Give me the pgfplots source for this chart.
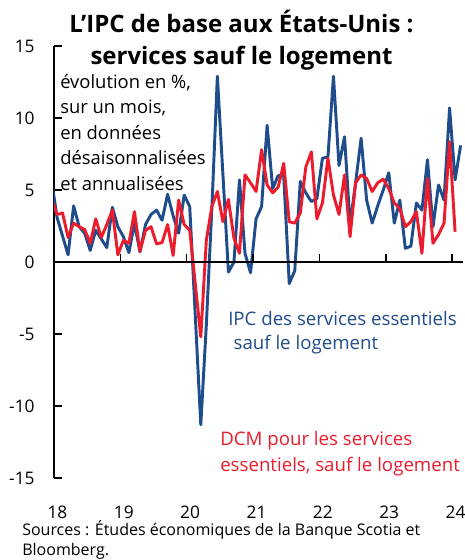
\documentclass[border=0pt]{standalone}
\usepackage{pgfplots}
\usepackage{pgfplotstable}
\pgfplotsset{compat=1.18}
\usepackage{fontspec}
\setmainfont{Open Sans}
\definecolor{cblue}{RGB}{31,76,138}
\definecolor{cred}{RGB}{236,28,45}
\pgfplotstableread{
k blue red
-1 5.7 4.4
0 3.1 3.3
1 1.8 3.4
2 0.5 1.7
3 3.9 2.7
4 2.45 2.45
5 2.0 2.25
6 0.8 1.3
7 2.2 3.0
8 1.6 1.7
9 1.0 2.6
10 3.8 3.6
11 2.45 0.5
12 1.76 1.5
13 0.65 1.3
14 2.7 3.5
15 0.7 0.75
16 2.6 2.2
17 3.3 2.45
18 3.6 1.25
19 2.9 1.35
20 4.7 2.6
21 3.2 0.45
22 2.0 4.3
23 4.65 2.6
24 3.85 2.2
25 -3.7 -1.5
26 -11.3 -5.2
27 -4.4 1.5
28 3.7 3.85
29 12.9 4.9
30 6.1 2.8
31 -0.7 4.35
32 0.0 1.65
33 5.7 0.6
34 0.6 6.05
35 -0.75 5.5
36 3.0 4.9
37 3.85 7.8
38 9.5 5.35
39 5.1 4.8
40 6.0 5.2
41 6.0 6.85
42 -1.5 2.8
43 -0.6 2.7
44 5.6 3.4
45 4.8 6.6
46 4.2 7.65
47 4.4 3.0
48 7.2 4.1
49 7.3 7.2
50 12.9 4.65
51 6.7 3.3
52 8.7 6.05
53 2.6 1.76
54 5.5 5.5
55 8.6 6.05
56 4.3 5.8
57 2.7 4.9
58 3.9 5.5
59 5.0 5.75
60 6.2 5.1
61 2.7 4.1
62 4.3 3.7
63 0.95 2.45
64 1.1 2.8
65 4.1 3.5
66 3.6 0.6
67 7.1 5.8
68 2.45 1.3
69 5.35 1.9
70 4.3 2.7
71 10.7 8.35
72 5.7 2.1
73 8.1 nan
}\datatable
\newcommand\PX[2]{({(#1-54)*0.75},{(478-#2)*0.75})}
\begin{document}
\begin{tikzpicture}[x=1pt,y=1pt]
\useasboundingbox (-40.5,-61.5) rectangle (307.5,358.5);
\begin{axis}[
  at={(0,0)}, anchor=south west,
  scale only axis, width=307pt, height=324pt,
  xmin=18, xmax=24.17, ymin=-15, ymax=15,
  axis y line=left, axis x line=bottom,
  x axis line style={draw=none},
  y axis line style={-, line width=1.2pt},
  ytick={-15,-10,...,15},
  xtick={18,...,24},
  major x tick style={draw=none},
  major y tick style={line width=1.2pt, black},
  tick align=inside, major tick length=6pt,
  yticklabel style={xshift=-11pt},
  xticklabel style={inner sep=0pt, yshift=-20.5pt, xshift=2.6pt},
  ticklabel style={font=\fontsize{13}{15}\selectfont},
  /pgf/number format/assume math mode=true,
  clip=true,
]
\addplot[cblue, line width=2.2pt, line join=round] table[x expr={18+(\thisrow{k}+0.55)/12}, y=blue] {\datatable};
\addplot[cred, line width=2.2pt, line join=round] table[x expr={18+(\thisrow{k}+0.55)/12}, y=red] {\datatable};
\draw[line width=1.5pt] (axis cs:18,0) -- (axis cs:24.17,0);
\pgfplotsinvokeforeach{19,20,21,22,23,24}{\draw[line width=1.2pt] (axis cs:#1,0) -- ++(0pt,6pt);}
\end{axis}
\node[anchor=base, font=\fontsize{18}{22}\selectfont\bfseries] at \PX{241.5}{32.3} {L'IPC de base aux États-Unis :};
\node[anchor=base, font=\fontsize{18}{22}\selectfont\bfseries] at \PX{241.5}{65} {services sauf le logement};
\node[anchor=north west, align=left, inner sep=0pt, font=\fontsize{13.8}{19.1}\selectfont] at \PX{60}{74} {évolution en \%,\\sur un mois,\\en données\\désaisonnalisées\\et annualisées};
\node[anchor=north west, align=left, inner sep=0pt, text=cblue, font=\fontsize{14}{18}\selectfont] at \PX{228}{311} {IPC des services essentiels\\\hspace{4pt}sauf le logement};
\node[anchor=north west, align=left, inner sep=0pt, text=cred, font=\fontsize{14}{19.5}\selectfont] at \PX{220}{431} {DCM pour les services\\essentiels, sauf le logement};
\node[anchor=north west, align=left, inner sep=0pt, font=\fontsize{12}{15.5}\selectfont] at \PX{22}{520} {Sources : Études économiques de la Banque Scotia et\\Bloomberg.};
\end{tikzpicture}
\end{document}
